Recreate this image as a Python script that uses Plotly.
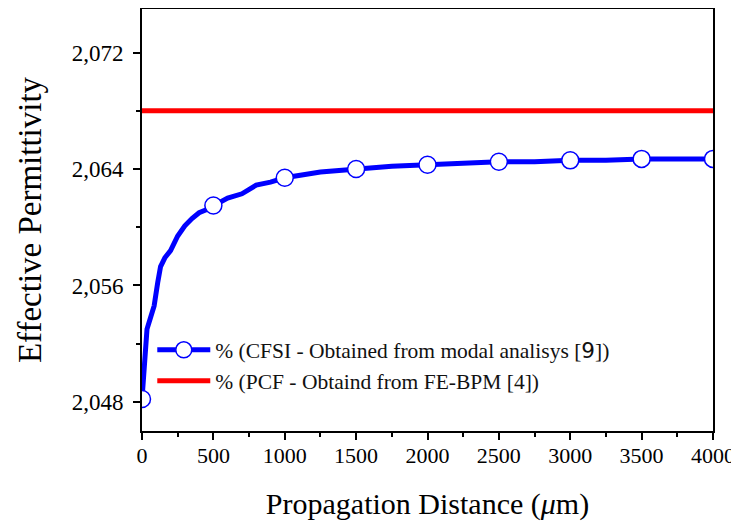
import plotly.graph_objects as go

# Data
distance_um = [0, 10, 20, 35, 60, 85, 110, 130, 160, 200, 250, 300, 350, 400, 450, 500,
               600, 700, 800, 900, 1000, 1250, 1500, 1750, 2000, 2250, 2500, 2750,
               3000, 3250, 3500, 3750, 4000]
cfsi_perm = [2.0482, 2.0500, 2.0512, 2.0530, 2.0538, 2.0546, 2.0562, 2.0573, 2.0579, 2.0584,
             2.0594, 2.0601, 2.0606, 2.0610, 2.0612, 2.0615,
             2.0620, 2.0623, 2.0629, 2.0631, 2.0634, 2.0638, 2.0640, 2.0642, 2.0643, 2.0644,
             2.0645, 2.0645, 2.0646, 2.0646, 2.0647, 2.0647, 2.0647]
marker_distance = [0, 500, 1000, 1500, 2000, 2500, 3000, 3500, 4000]
pcf_perm = 2.068
pcf_x = [0, 4000]

x_ticks = [0, 500, 1000, 1500, 2000, 2500, 3000, 3500, 4000]
y_ticks = [2.048, 2.056, 2.064, 2.072]
y_minor = [2.052, 2.060, 2.068]

series1_name = "% (CFSI - Obtained from modal analisys [<span style='font-family:DejaVu Sans'>9</span>])"
series2_name = "% (PCF - Obtaind from FE-BPM [4])"

marker_vals = [cfsi_perm[distance_um.index(d)] for d in marker_distance]

FONT = "Liberation Serif, Times New Roman, serif"
BLUE = "#0000ff"
RED = "#ff0000"
marker_style = dict(symbol="circle", size=17, color="white", line=dict(color=BLUE, width=1.5))

fig = go.Figure()
fig.add_trace(go.Scatter(
    x=pcf_x, y=[pcf_perm] * len(pcf_x), mode="lines",
    line=dict(color=RED, width=5), name=series2_name, legendrank=2))
fig.add_trace(go.Scatter(
    x=distance_um, y=cfsi_perm, mode="lines",
    line=dict(color=BLUE, width=5), showlegend=False, hoverinfo="skip"))
fig.add_trace(go.Scatter(
    x=marker_distance, y=marker_vals, mode="markers",
    marker=marker_style, showlegend=False))
# legend-only entry for the blue series (line + marker symbol)
fig.add_trace(go.Scatter(
    x=[None], y=[None], mode="lines+markers",
    line=dict(color=BLUE, width=5), marker=marker_style,
    name=series1_name, legendrank=1))

# page body has an 8px margin, so the figure is sized to fit the 739x521 window
fig.update_layout(
    width=731, height=513,
    margin=dict(l=134, r=26, t=1, b=90),
    paper_bgcolor="white", plot_bgcolor="white",
    separators=",.",
    font=dict(family=FONT, color="black", size=22),
    showlegend=True,
    legend=dict(x=0.018, y=0.241, xanchor="left", yanchor="top",
                bgcolor="rgba(0,0,0,0)", font=dict(family=FONT, size=21.5, color="#111"),
                itemwidth=53, tracegroupgap=0),
)
fig.update_xaxes(
    range=[0, 4000], tickvals=x_ticks,
    tickformat="d", showgrid=False, zeroline=False, automargin=False,
    showline=True, linecolor="black", linewidth=2, mirror=True,
    ticks="outside", ticklen=7, tickwidth=1.5, tickcolor="black", ticklabelstandoff=-3,
    minor=dict(dtick=250, ticks="outside", ticklen=4, tickwidth=1.5, tickcolor="black"),
    tickfont=dict(family=FONT, size=22),
    title=dict(text="Propagation Distance (<i>μ</i>m)", font=dict(family=FONT, size=30), standoff=30),
)
fig.update_yaxes(
    range=[2.046, 2.075], tickvals=y_ticks,
    tickformat=".3f", showgrid=False, zeroline=False, automargin=False,
    showline=True, linecolor="black", linewidth=2, mirror=True,
    ticks="outside", ticklen=7, tickwidth=1.5, tickcolor="black", ticklabelstandoff=5,
    minor=dict(tickvals=y_minor, ticks="outside", ticklen=4, tickwidth=1.5, tickcolor="black"),
    tickfont=dict(family=FONT, size=23),
    title=dict(text="Effective Permittivity", font=dict(family=FONT, size=33), standoff=20),
)
fig.write_html("out.html")
